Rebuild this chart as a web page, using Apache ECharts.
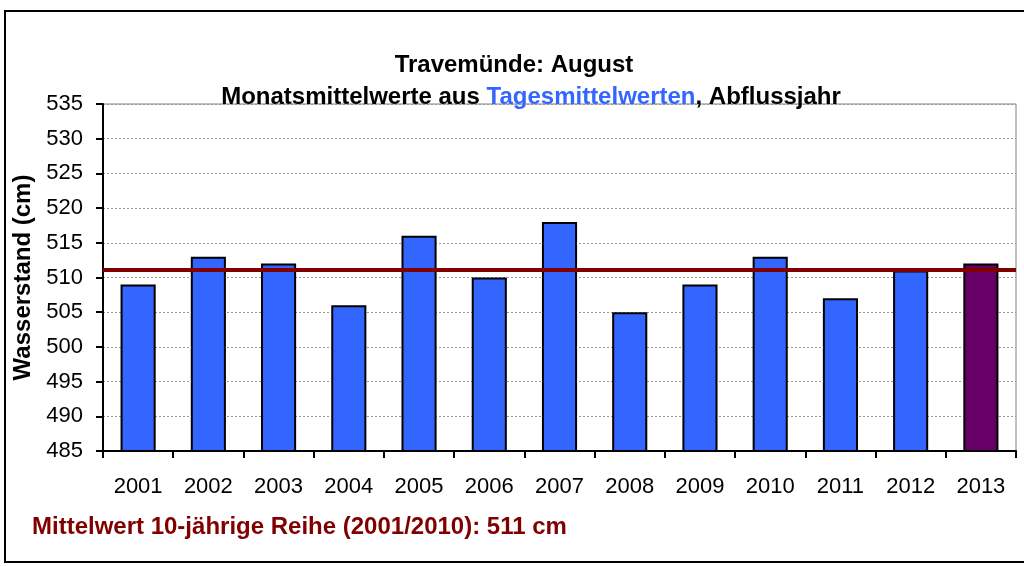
<!DOCTYPE html>
<html>
<head>
<meta charset="utf-8">
<script src="https://cdn.jsdelivr.net/npm/echarts@6/dist/echarts.min.js"></script>
<style>
  html, body { margin: 0; padding: 0; background: #fff; }
  #main { width: 1024px; height: 566px; }
</style>
</head>
<body>
<div id="main"></div>
<script>
const years = ['2001', '2002', '2003', '2004', '2005', '2006', '2007', '2008', '2009', '2010', '2011', '2012', '2013'];
const levels = [509, 513, 512, 506, 516, 510, 518, 505, 509, 513, 507, 511, 512];
const meanValue = 511.1;
const yTicks = { min: 485, max: 535, interval: 5 };

const chartDom = document.getElementById('main');
const myChart = echarts.init(chartDom, null, { renderer: 'canvas' });
const font = '"Liberation Sans", Arial, sans-serif';

const barData = levels.map(function (v, i) {
    return {
        value: v,
        itemStyle: { color: i === levels.length - 1 ? '#660066' : '#3366FF' }
    };
});

const option = {
    backgroundColor: '#fff',
    textStyle: { fontFamily: font },
    title: [
        {
            left: 509,
            top: 48,
            textAlign: 'center',
            text: 'Travemünde: August',
            textStyle: { fontSize: 24, fontWeight: 'bold', color: '#000', fontFamily: font }
        },
        {
            left: 526,
            top: 80,
            textAlign: 'center',
            text: '{b|Monatsmittelwerte aus }{c|Tagesmittelwerten}{b|, Abflussjahr}',
            textStyle: {
                rich: {
                    b: { fontSize: 24, fontWeight: 'bold', color: '#000', fontFamily: font },
                    c: { fontSize: 24, fontWeight: 'bold', color: '#3366FF', fontFamily: font }
                }
            }
        }
    ],
    grid: {
        left: 103,
        right: 8,
        top: 104,
        bottom: 115,
        show: true,
        borderColor: '#808080',
        borderWidth: 1
    },
    xAxis: {
        type: 'category',
        data: years,
        axisLine: { lineStyle: { color: '#000', width: 2 } },
        axisTick: { show: true, length: 7, lineStyle: { color: '#000', width: 2 } },
        axisLabel: { color: '#000', fontSize: 22, margin: 25, fontFamily: font }
    },
    yAxis: {
        type: 'value',
        min: yTicks.min,
        max: yTicks.max,
        interval: yTicks.interval,
        name: 'Wasserstand (cm)',
        nameLocation: 'middle',
        nameGap: 66,
        nameTextStyle: { fontSize: 24, fontWeight: 'bold', color: '#000', fontFamily: font },
        axisLine: { show: true, lineStyle: { color: '#000', width: 2 } },
        axisTick: { show: true, length: 7, lineStyle: { color: '#000', width: 2 } },
        axisLabel: { color: '#000', fontSize: 22, margin: 20, fontFamily: font },
        splitLine: { show: true, lineStyle: { color: '#999', type: [2, 2], width: 1 } }
    },
    series: [{
        type: 'bar',
        data: barData,
        barCategoryGap: '50%',
        itemStyle: { borderColor: '#000', borderWidth: 2 },
        markLine: {
            silent: true,
            symbol: 'none',
            label: { show: false },
            lineStyle: { color: '#800000', width: 4, type: 'solid' },
            data: [{ yAxis: meanValue }]
        },
        animation: false
    }],
    graphic: [
        {
            type: 'rect',
            shape: { x: 5, y: 11, width: 1030, height: 551 },
            style: { fill: 'none', stroke: '#000', lineWidth: 2 },
            silent: true
        },
        {
            type: 'text',
            left: 32,
            top: 515,
            style: {
                text: 'Mittelwert 10-jährige Reihe (2001/2010): 511 cm',
                fill: '#800000',
                font: 'bold 24px ' + font
            }
        }
    ],
    animation: false
};

myChart.setOption(option);
</script>
</body>
</html>
